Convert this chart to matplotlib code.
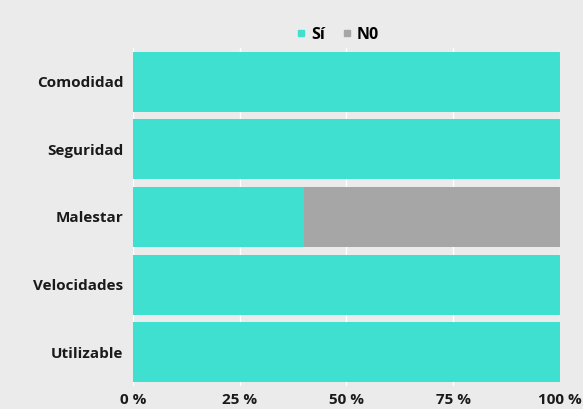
import matplotlib
matplotlib.use('Agg')
import matplotlib.pyplot as plt
from matplotlib.lines import Line2D

# --- DADOS ---
categorias = ["Comodidad", "Seguridad", "Malestar", "Velocidades", "Utilizable"]
si = [100, 100, 40, 100, 100]
no = [0, 0, 60, 0, 0]
ticks = [0, 25, 50, 75, 100]

cor_si = "#40e0d0"
cor_no = "#a6a6a6"
fundo = "#ebebeb"

plt.rcParams['font.family'] = ['Open Sans', 'DejaVu Sans']

fig = plt.figure(figsize=(5.83, 4.09), dpi=100, facecolor=fundo)
ax = fig.add_axes([0.228, 0.056, 0.7325, 0.827])
ax.set_facecolor(fundo)

y = list(range(len(categorias)))
ax.barh(y, si, height=0.89, color=cor_si, zorder=3)
ax.barh(y, no, left=si, height=0.89, color=cor_no, zorder=3)

ax.set_ylim(len(categorias) - 0.5, -0.5)
ax.set_xlim(0, 100)
ax.set_yticks(y)
ax.set_yticklabels(categorias, fontsize=11, fontweight='bold', color='#1a1a1a')
ax.set_xticks(ticks)
ax.set_xticklabels([f"{t} %" for t in ticks], fontsize=11, fontweight='bold', color='#1a1a1a')
ax.tick_params(length=0)
ax.tick_params(axis='y', pad=7)
ax.tick_params(axis='x', pad=5)
ax.grid(axis='x', color='white', linewidth=1, zorder=0)
for s in ax.spines.values():
    s.set_visible(False)

# legenda no topo
handles = [Line2D([], [], marker='s', linestyle='', color=cor_si, markersize=4.5),
           Line2D([], [], marker='s', linestyle='', color=cor_no, markersize=4.5)]
fig.legend(handles, ["Sí", "N0"], loc='upper center', bbox_to_anchor=(0.575, 0.97),
           ncol=2, frameon=False, handletextpad=0.0, columnspacing=0.8,
           handlelength=1.2, prop={'weight': 'bold', 'size': 11.5})

fig.savefig("out.png", dpi=100, facecolor=fundo)
